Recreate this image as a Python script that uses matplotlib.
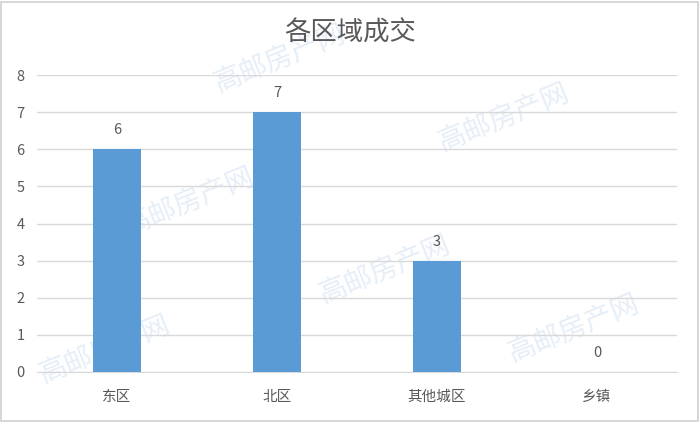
import matplotlib.pyplot as plt

plt.rcParams['font.family'] = ['Noto Sans CJK SC', 'DejaVu Sans']

categories = ['东区', '北区', '其他城区', '乡镇']
deals = [6, 7, 3, 0]
y_ticks = [0, 1, 2, 3, 4, 5, 6, 7, 8]

# watermark positions (figure fraction), purely decorative
marks = [(0.40, 0.86), (0.72, 0.72), (0.27, 0.52), (0.55, 0.36),
         (0.82, 0.22), (0.15, 0.17)]

text_col = '#595959'
grid_col = '#d9d9d9'
bar_col = '#5b9bd5'

fig = plt.figure(figsize=(7, 4.22), dpi=100)
fig.patch.set_facecolor('white')

for mx, my in marks:
    fig.text(mx, my, '高邮房产网', fontsize=20, color='#e6eef7', rotation=22,
             ha='center', va='center', zorder=-5)

ax = fig.add_axes([0.053, 0.1185, 0.914, 0.7035])
ax.patch.set_alpha(0)
ax.set_zorder(2)

x = range(len(categories))
bars = ax.bar(x, deals, width=0.3, color=bar_col, zorder=3)
for b, v in zip(bars, deals):
    ax.text(b.get_x() + b.get_width() / 2, v + 0.32, str(v), ha='center', va='bottom',
            fontsize=10.5, color=text_col)

ax.set_xlim(-0.5, len(categories) - 0.5)
ax.set_ylim(0, 8)
ax.set_yticks(y_ticks)
ax.set_xticks(list(x))
ax.set_xticklabels(categories)
ax.tick_params(axis='both', length=0, labelsize=10.5, colors=text_col)
ax.tick_params(axis='y', pad=9)
ax.tick_params(axis='x', pad=13)
ax.grid(axis='y', color=grid_col, linewidth=1, zorder=0)
for s in ['top', 'right', 'left']:
    ax.spines[s].set_visible(False)
ax.spines['bottom'].set_color(grid_col)

fig.text(0.5, 0.922, '各区域成交', ha='center', va='center', fontsize=19,
         fontweight='medium', color=text_col)

# light frame around the chart
fig.add_artist(plt.Rectangle((0.002, 0.003), 0.995, 0.993, transform=fig.transFigure,
                             fill=False, edgecolor='#d0d0d0', linewidth=1.2))

fig.savefig('out.png', dpi=100)
